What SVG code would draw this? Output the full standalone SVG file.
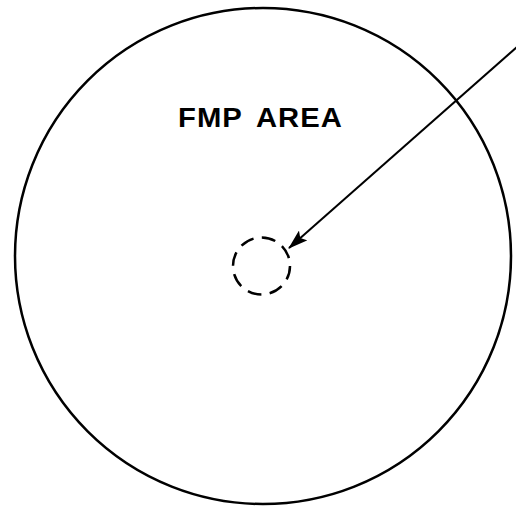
<svg xmlns="http://www.w3.org/2000/svg" width="516" height="508" viewBox="0 0 516 508">
<defs>
<style>
.outline{fill:none;stroke:#000;stroke-width:2.5}
.dash{fill:none;stroke:#000;stroke-width:2.5;stroke-dasharray:14 8.4}
.conn{fill:none;stroke:#000;stroke-width:2}
.lbl{font-family:"Liberation Sans",Arial,sans-serif;font-weight:bold;font-size:27px;fill:#000;word-spacing:5px;letter-spacing:1px}
</style>
<marker id="ah" markerWidth="20" markerHeight="13" refX="19" refY="6.5" orient="auto" markerUnits="userSpaceOnUse" viewBox="0 0 20 13">
<path d="M0,0 L20,6.5 L0,13 L4,6.5 Z" fill="#000"/>
</marker>
</defs>
<g id="fmp-area">
<circle class="outline" cx="263" cy="256" r="248"/>
<text class="lbl" x="178" y="127" textLength="165" lengthAdjust="spacingAndGlyphs">FMP AREA</text>
</g>
<g id="target">
<circle class="dash" cx="261.5" cy="266" r="28.5"/>
</g>
<g id="connectors">
<path class="conn" d="M517,47 L289,248" marker-end="url(#ah)"/>
</g>
</svg>
